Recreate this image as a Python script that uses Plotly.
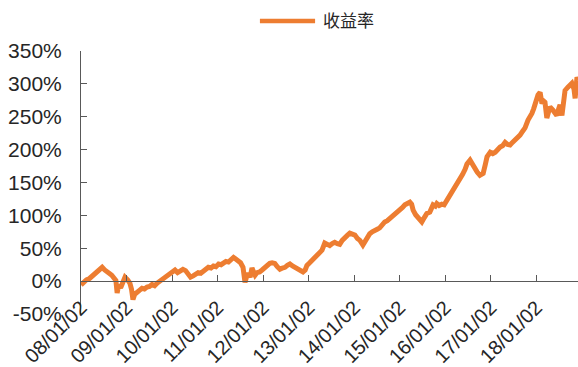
import plotly.graph_objects as go

# Cumulative return series (%), sampled by date
dates = [
    "2008-01-02", "2008-01-20", "2008-02-15", "2008-03-10", "2008-04-05", "2008-04-25",
    "2008-05-15", "2008-06-05", "2008-06-20", "2008-07-10", "2008-07-25", "2008-08-15",
    "2008-09-05", "2008-09-25", "2008-10-08", "2008-10-18", "2008-10-30", "2008-11-15",
    "2008-12-01", "2008-12-20",
    "2009-01-10", "2009-01-28", "2009-02-10", "2009-02-22", "2009-03-08", "2009-03-25",
    "2009-04-15", "2009-05-05", "2009-05-25", "2009-06-15", "2009-07-05", "2009-07-25",
    "2009-08-15", "2009-09-05", "2009-09-25", "2009-10-15", "2009-11-05", "2009-11-25",
    "2009-12-15",
    "2010-01-10", "2010-01-25", "2010-02-15", "2010-03-10", "2010-03-30", "2010-04-20",
    "2010-05-10", "2010-05-30", "2010-06-20", "2010-07-10", "2010-07-30", "2010-08-20",
    "2010-09-10", "2010-09-30", "2010-10-20", "2010-11-10", "2010-11-30", "2010-12-20",
    "2011-01-10", "2011-01-30", "2011-02-20", "2011-03-10", "2011-03-30", "2011-04-20",
    "2011-05-10", "2011-05-25", "2011-06-15", "2011-07-05", "2011-07-25", "2011-08-10",
    "2011-08-25", "2011-09-05", "2011-09-20", "2011-10-05", "2011-10-18", "2011-10-30",
    "2011-11-15", "2011-12-05", "2011-12-25",
    "2012-01-16", "2012-02-05", "2012-02-25", "2012-03-15", "2012-04-05", "2012-04-25",
    "2012-05-16", "2012-06-05", "2012-06-26", "2012-07-15", "2012-08-04", "2012-08-25",
    "2012-09-13", "2012-10-05", "2012-10-23", "2012-11-17", "2012-12-05", "2012-12-19",
    "2013-01-10", "2013-01-29", "2013-02-20", "2013-03-10", "2013-03-30", "2013-04-19",
    "2013-05-11", "2013-05-30", "2013-06-20", "2013-07-10", "2013-07-30", "2013-08-20",
    "2013-09-08", "2013-09-28", "2013-10-19", "2013-11-10", "2013-11-28", "2013-12-18",
    "2014-01-08", "2014-01-28", "2014-02-17", "2014-03-13", "2014-03-28", "2014-04-18",
    "2014-05-07", "2014-05-27", "2014-06-16", "2014-07-06", "2014-07-26", "2014-08-15",
    "2014-09-04", "2014-09-25", "2014-10-15", "2014-11-04", "2014-11-24", "2014-12-15",
    "2015-01-04", "2015-01-25", "2015-02-13", "2015-03-05", "2015-03-25", "2015-04-08",
    "2015-04-20", "2015-05-10", "2015-05-30", "2015-06-15", "2015-06-29", "2015-07-20",
    "2015-08-08", "2015-09-01", "2015-09-27", "2015-10-15", "2015-10-27", "2015-11-15",
    "2015-12-06", "2015-12-25",
    "2016-01-07", "2016-01-25", "2016-02-09", "2016-03-08", "2016-04-05", "2016-04-20",
    "2016-05-01", "2016-05-20", "2016-06-10", "2016-06-25", "2016-07-20", "2016-08-05",
    "2016-08-28", "2016-09-15", "2016-10-07", "2016-11-02", "2016-11-20", "2016-12-03",
    "2016-12-29",
    "2017-01-18", "2017-02-07", "2017-02-25", "2017-03-18", "2017-04-07", "2017-04-27",
    "2017-05-17", "2017-06-06", "2017-06-25", "2017-07-15", "2017-08-05", "2017-08-25",
    "2017-09-15", "2017-10-04", "2017-10-28", "2017-11-15", "2017-11-28", "2017-12-12",
    "2017-12-24",
    "2018-01-16", "2018-02-02", "2018-02-10", "2018-02-17", "2018-03-01", "2018-03-13",
    "2018-03-28", "2018-04-10", "2018-04-22", "2018-05-16", "2018-06-01", "2018-06-16",
    "2018-07-01", "2018-07-12", "2018-07-27", "2018-08-10", "2018-08-21", "2018-09-13",
    "2018-10-01", "2018-10-15", "2018-11-01", "2018-11-10", "2018-11-25", "2018-12-03",
]
returns_pct = [
    -6, -2, 2, 4, 8, 11,
    15, 19, 21, 17, 14, 12,
    9, 5, 1, -18, -6, -10,
    0, 6,
    2, -3, -12, -28, -20, -16,
    -14, -11, -12, -9, -8, -5,
    -7, -3, 0, 1, 5, 9,
    10,
    14, 17, 13, 15, 18, 16,
    11, 6, 8, 11, 13, 12,
    15, 19, 21, 20, 23, 22,
    26, 25, 29, 30, 29, 33,
    36, 34, 31, 28, 21, -2,
    8, 12, 6, 20, 14, 9,
    13, 14, 17,
    21, 24, 27, 28, 27, 22,
    18, 20, 21, 24, 26, 23,
    21, 20, 18, 14, 17, 24,
    28, 32, 36, 40, 44, 47,
    58, 55, 54, 57, 59, 57,
    56, 62, 67, 70, 73, 72,
    70, 65, 62, 55, 60, 66,
    72, 75, 78, 79, 81, 86,
    90, 92, 95, 99, 102, 105,
    108, 112, 116, 118, 120, 117,
    108, 101, 96, 93, 90, 97,
    103, 105, 116, 114, 118, 115,
    117, 116,
    120, 123, 128, 138, 148, 150,
    155, 162, 170, 178, 184, 178,
    173, 166, 161, 164, 178, 189,
    196,
    194, 196, 200, 204, 206, 211,
    208, 207, 211, 214, 218, 222,
    228, 233, 245, 250, 255, 262,
    271,
    283, 287, 275, 270, 274, 272,
    248, 262, 265, 260, 256, 252,
    262, 268, 252, 275, 290, 295,
    298, 301, 292, 278, 310, 306,
]

x_tick_dates = ["2008-01-02", "2009-01-02", "2010-01-02", "2011-01-02", "2012-01-02",
                "2013-01-02", "2014-01-02", "2015-01-02", "2016-01-02", "2017-01-02",
                "2018-01-02"]
x_tick_labels = ["08/01/02", "09/01/02", "10/01/02", "11/01/02", "12/01/02", "13/01/02",
                 "14/01/02", "15/01/02", "16/01/02", "17/01/02", "18/01/02"]
y_tick_vals = [-50, 0, 50, 100, 150, 200, 250, 300, 350]
y_tick_labels = [f"{v}%" for v in y_tick_vals]

series_name = "收益率"
line_color = "#ED7D31"
axis_color = "#595959"
text_color = "#262626"
y_min, y_max = -50, 350

fig = go.Figure()
fig.add_trace(go.Scatter(
    x=dates, y=returns_pct, mode="lines", name=series_name,
    line=dict(color=line_color, width=5), showlegend=False,
))
# carrier for the axis drawn through 0%
fig.add_trace(go.Scatter(x=[], y=[], xaxis="x2", yaxis="y", showlegend=False))

fig.update_layout(
    width=578, height=367, autosize=False,
    margin=dict(l=81, r=0, t=51, b=53),
    paper_bgcolor="white", plot_bgcolor="white",
    font=dict(family="Liberation Sans, Arial, sans-serif", color=text_color),
    xaxis=dict(
        type="date", range=[dates[0], dates[-1]], automargin=False,
        tickmode="array", tickvals=x_tick_dates, ticktext=x_tick_labels,
        tickangle=-45, tickfont=dict(size=20, color=text_color),
        ticklabelstandoff=-23,
        showline=False, showgrid=False, zeroline=False, ticks="",
    ),
    xaxis2=dict(
        type="date", overlaying="x", matches="x", anchor="free", automargin=False,
        position=(0 - y_min) / (y_max - y_min),
        tickmode="array", tickvals=x_tick_dates, showticklabels=False,
        showline=True, linecolor=axis_color, linewidth=1,
        ticks="inside", ticklen=6, tickcolor=axis_color, tickwidth=1,
        showgrid=False, zeroline=False,
    ),
    yaxis=dict(
        range=[y_min, y_max], automargin=False,
        tickmode="array", tickvals=y_tick_vals, ticktext=y_tick_labels,
        tickfont=dict(size=21, color=text_color),
        showline=True, linecolor=axis_color, linewidth=1,
        ticks="inside", ticklen=6, tickcolor=axis_color, tickwidth=1,
        ticklabelstandoff=14,
        showgrid=False, zeroline=False,
    ),
)

# series key above the plot
fig.add_shape(type="line", xref="paper", yref="paper",
              x0=0.36, x1=0.471, y0=1.114, y1=1.114,
              line=dict(color=line_color, width=4.5))
fig.add_annotation(text=series_name, xref="paper", yref="paper",
                   x=0.483, y=1.118, xanchor="left", yanchor="middle", showarrow=False,
                   font=dict(family="Noto Sans CJK SC", size=17, color=text_color))

fig.write_html("out.html")
